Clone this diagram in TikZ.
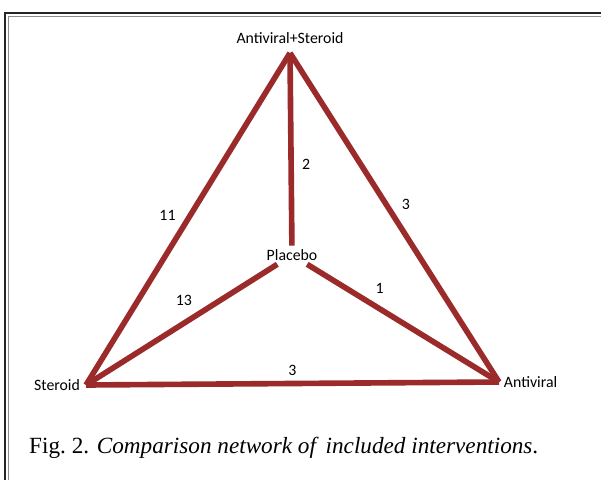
\documentclass[tikz,border=0pt]{standalone}
\usepackage{fontspec}
\setmainfont{Liberation Serif}
\newfontfamily\labelfont{Carlito}
\usetikzlibrary{positioning}
\definecolor{netred}{RGB}{155,42,42}
\definecolor{framegray}{RGB}{140,140,140}

\begin{document}
\begin{tikzpicture}[
                x=0.03cm, y=-0.03cm,
                font=\labelfont\fontsize{13.5}{15}\selectfont,
                edge/.style={draw=netred, line width=4.8pt},
                num/.style={inner sep=2pt},
                vlabel/.style={inner sep=1pt}
            ]
            \useasboundingbox (0,0) rectangle (601,479);
            % frame round the figure
            \draw [black!85, line width=0.07cm] (5,13) rectangle (640,520);
            \draw [framegray, line width=0.03cm] (8.5,16.5) rectangle (640,520);

            \coordinate (combo) at (290,53);
            \coordinate (ster) at (86,385);
            \coordinate (anti) at (499,382);
            \node (plac) [inner sep=3pt] at (292,255) {Placebo};
            \node (combolab) [vlabel, above=7pt of combo] {Antiviral+Steroid};
            \node (sterlab) [vlabel, left=4pt of ster] {Steroid};
            \node (antilab) [vlabel, right=3pt of anti] {Antiviral};

            \draw [edge] (combo) -- (ster) node [num, pos=0.49, left=8pt] {11};
            \draw [edge] (combo) -- (anti) node [num, pos=0.46, right=9pt] {3};
            \draw [edge] (combo) -- (plac) node [num, pos=0.58, right=5pt] {2};
            \draw [edge] (plac) -- (ster) node [num, pos=0.42, above left=4pt and 0pt] {13};
            \draw [edge] (plac) -- (anti) node [num, pos=0.33, above right=4pt and 0pt] {1};
            \draw [edge] (ster) -- (anti) node [num, pos=0.5, above=2pt] {3};

            \node (caption) [anchor=base west, inner sep=0pt, font=\rmfamily\fontsize{19.8}{22}\selectfont] at (29,453) {Fig.~2. \textit{Comparison network of\, included interventions}.};
\end{tikzpicture}
\end{document}
